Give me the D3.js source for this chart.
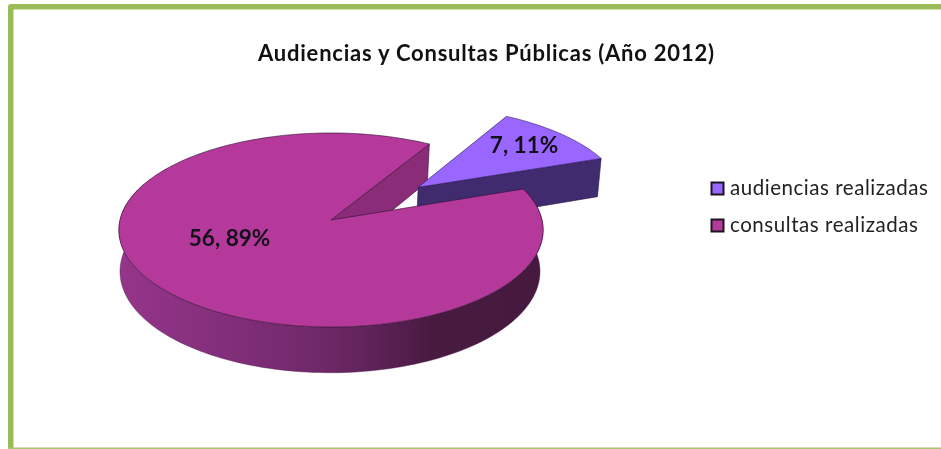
<!DOCTYPE html>
<html><head><meta charset="utf-8">
<script src="https://cdnjs.cloudflare.com/ajax/libs/d3/7.8.5/d3.min.js"></script>
<style>html,body{margin:0;padding:0;background:#fff}svg{display:block;filter:blur(.35px)}text{font-family:Lato,"Open Sans",sans-serif}</style>
</head><body><svg id="c" width="941" height="449"></svg>
<script>
const title = "Audiencias y Consultas Públicas (Año 2012)";
const categories = ["audiencias realizadas", "consultas realizadas"];
const values = [7, 56];
const percents = [11, 89];
const topColors = ["#9966ff", "#b5389b"];
const sideColors = ["#3f2b6e", "#8b2c78"];

const W = 941, H = 449;
const svg = d3.select("#c");
const defs = svg.append("defs");

// frame
svg.append("rect").attr("width", W).attr("height", H).attr("fill", "#fff");
svg.append("path").attr("fill", "#9bbb59")
  .attr("d", `M8 449V7Q8 4 11 4H941V9.5H13.5V449Z`);
svg.append("rect").attr("x", 8).attr("y", 447.5).attr("width", W - 8).attr("height", 1.5).attr("fill", "#a9c46f");

// perspective pie projection
const cx = 331, cy = 220, rx = 211, ry = 96, k = 0.103, depth = 41, shrink = 0.99;
function proj(u, v, low) {
  const s = 1 / (1 - k * v);
  const x = rx * u * s, y = ry * v * s;
  return low ? [cx - 1 + x * shrink, cy + y + depth * s] : [cx + x, cy + y];
}
const start = 30.5 * Math.PI / 180;
const arcs = d3.pie().sort(null).startAngle(start).endAngle(start + 2 * Math.PI)(values);
const explode = [0.555, 0];
const line = d3.line().curve(d3.curveLinear);

function model(d, i) {
  const mid = (d.startAngle + d.endAngle) / 2;
  const ox = Math.sin(mid) * explode[i], oy = -Math.cos(mid) * explode[i];
  const rim = d3.range(0, 201).map(t => {
    const a = d.startAngle + (d.endAngle - d.startAngle) * t / 200;
    return [ox + Math.sin(a), oy - Math.cos(a)];
  });
  return { apex: [ox, oy], rim };
}
const P = (p, low) => proj(p[0], p[1], low);
const stroke = { stroke: "#2e1030", "stroke-width": 0.6, "stroke-linejoin": "round" };
function shape(d, fill, st) {
  const el = svg.append("path").attr("d", d).attr("fill", fill);
  Object.entries(st || stroke).forEach(([a, b]) => el.attr(a, b));
  return el;
}

const aud = model(arcs[0], 0), con = model(arcs[1], 1);

// inner cut face of the large slice
const conEnd = con.rim[con.rim.length - 1];
shape(line([P(con.apex), P(conEnd), P(conEnd, true), P(con.apex, true)]) + "Z", sideColors[1]);

// detached slice: radial side then top
const audEnd = aud.rim[aud.rim.length - 1];
shape(line([P(aud.apex), P(audEnd), P(audEnd, true), P(aud.apex, true)]) + "Z", sideColors[0],
      { stroke: "#2a1a50", "stroke-width": 0.6 });
shape(line([P(aud.apex), ...aud.rim.map(p => P(p))]) + "Z", topColors[0],
      { stroke: "#2a1a50", "stroke-width": 0.6 });

// outer wall of the large slice
const grad = defs.append("linearGradient").attr("id", "wall")
  .attr("gradientUnits", "userSpaceOnUse").attr("x1", 118).attr("x2", 542).attr("y1", 0).attr("y2", 0);
[[0, "#96358a"], [0.3, "#7f2d77"], [0.5, "#6c2866"], [0.65, "#561f50"], [0.75, "#481a40"], [1, "#451a3e"]]
  .forEach(([o, c]) => grad.append("stop").attr("offset", o).attr("stop-color", c));
const wall = con.rim.filter(p => p[1] > -0.4);
shape(line([...wall.map(p => P(p)), ...wall.slice().reverse().map(p => P(p, true))]) + "Z", "url(#wall)",
      { stroke: "#4a1a45", "stroke-width": 0.4 });

// top of the large slice
shape(line([P(con.apex), ...con.rim.map(p => P(p))]) + "Z", topColors[1]);

// title
svg.append("text").attr("x", 486).attr("y", 61).attr("text-anchor", "middle")
  .attr("font-size", 22).attr("font-weight", 700).attr("fill", "#111")
  .attr("textLength", 456).attr("lengthAdjust", "spacing").text(title);

// data labels
const labelPos = [[524, 153], [229.5, 246]];
svg.selectAll("text.lab").data(values).join("text").attr("class", "lab")
  .attr("x", (d, i) => labelPos[i][0]).attr("y", (d, i) => labelPos[i][1])
  .attr("text-anchor", "middle").attr("font-size", 22.5).attr("font-weight", 700).attr("fill", "#14101a")
  .text((d, i) => `${d}, ${percents[i]}%`);

// legend
const legendY = d3.scalePoint().domain(categories).range([188.5, 225.5]);
const lg = svg.selectAll("g.lg").data(categories).join("g").attr("class", "lg")
  .attr("transform", d => `translate(709,${legendY(d)})`);
lg.append("rect").attr("x", 2.5).attr("y", -6).attr("width", 12).attr("height", 12)
  .attr("fill", (d, i) => topColors[i]).attr("stroke", "#1c1420").attr("stroke-width", 2);
lg.append("text").attr("x", 21).attr("y", 6.5).attr("font-size", 20.5).attr("fill", "#222")
  .attr("textLength", (d, i) => [198, 188][i]).attr("lengthAdjust", "spacing").text(d => d);
</script></body></html>
